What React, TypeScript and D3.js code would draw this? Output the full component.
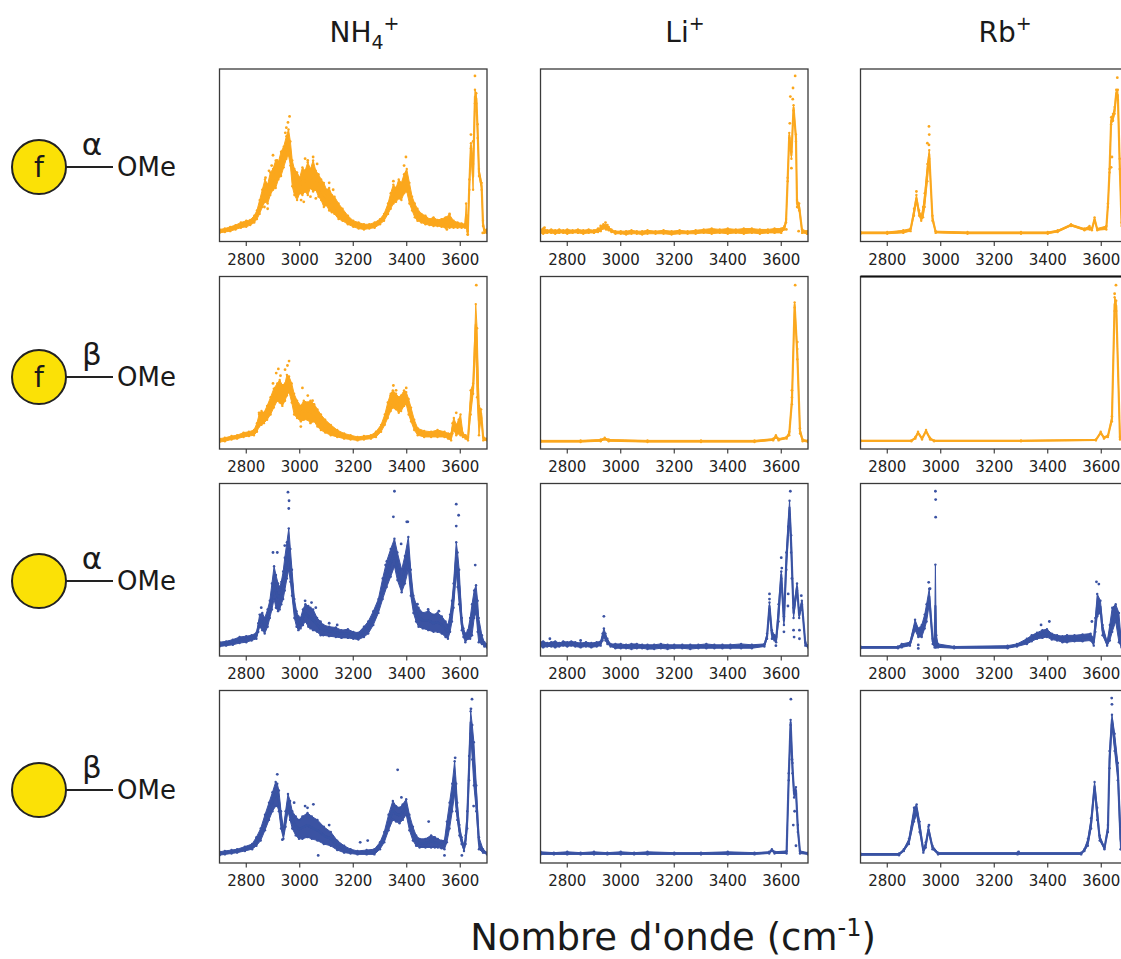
import React from "react";
import * as d3 from "d3";

const anomers = ["α", "β", "α", "β"];
const hasF = [true, true, false, false];
const tickValues = [2800, 3000, 3200, 3400, 3600];
const orange = "#FBA71F";
const blue = "#3A52A3";

// band rows: wavenumber, lower edge, upper edge (percent of panel height)
const nh4FA = [[2700,5,7],[2720,5.5,7.5],[2740,6,8.5],[2760,7,9.5],[2780,8,11],[2800,8.5,12],[2815,9.5,12.5],[2830,11,15],[2840,13,18],[2850,16,24],[2860,20,30],[2870,23,36],[2880,22,33],[2890,27,40],[2900,30,42],[2910,31,47],[2920,36,46],[2930,38,52],[2940,43,55],[2950,48,61],[2958,50,65],[2965,44,58],[2972,32,47],[2980,27,42],[2990,24,40],[3000,28,37],[3010,27,43],[3020,29,41],[3030,27,46],[3040,31,42],[3050,29,47],[3060,30,41],[3070,26,39],[3080,24,36],[3090,20,34],[3100,21,30],[3110,18,31],[3120,17,27],[3130,16,26],[3145,13,22],[3160,12,19],[3180,10,15],[3200,8.5,12],[3220,7.5,11],[3240,7,10],[3260,7.5,10],[3280,8,11],[3300,10,13],[3315,12,16],[3330,16,22],[3340,19,28],[3350,22,33],[3360,23,31],[3370,25,36],[3380,24,34],[3390,28,39],[3400,29,42],[3410,22,34],[3420,18,26],[3430,14,22],[3440,12,19],[3455,11,16],[3470,10,15],[3485,9.5,13],[3500,9,14],[3515,9,12.5],[3530,8.5,13],[3545,8,14],[3560,8,15.5],[3575,8,12],[3590,8,11],[3605,8,10.5],[3618,8,10],[3622,9,22],[3628,4,6],[3634,30,36],[3640,54,57],[3648,30,45],[3655,80,88],[3660,80,86],[3665,60,68],[3670,38,42],[3680,30,34],[3685,9,12],[3690,5,7],[3700,5,7]];
const liFA = [[2700,5,7],[2710,4.5,7.5],[2725,5,6.5],[2740,5,7],[2755,4.5,6.5],[2770,5,7],[2785,5,6.5],[2800,4.5,7],[2820,5,6.5],[2840,5,7],[2860,4.5,6.5],[2880,5,7],[2900,5,6.5],[2915,5.5,7.5],[2925,6,8],[2935,7.5,10],[2945,7,9.5],[2955,6.5,8.5],[2965,5.5,7],[2980,4.5,6],[3000,4.5,6],[3020,4,6],[3040,4.5,6.5],[3060,4.5,6],[3080,4,6],[3100,4.5,6.5],[3130,4.5,6],[3160,4.5,6.5],[3190,4,6],[3220,4.5,6.5],[3250,4.5,6],[3280,4.5,6.5],[3310,5,7],[3340,4.5,7.5],[3370,5,7],[3400,4.5,7.5],[3430,5,7],[3460,4.5,7.5],[3490,5,7.5],[3520,4.5,7],[3550,5,7],[3575,5,7.5],[3600,5,7.5],[3612,7,9],[3618,11,13],[3624,35,37],[3630,60,63],[3638,48,52],[3646,76,79],[3655,58,62],[3659,20,24],[3667,18,22],[3678,5,7],[3696,4.5,6],[3700,4.5,6]];
const rbFA = [[2700,4.5,5.5],[2800,4.5,5.5],[2860,5,6.5],[2887,6,7.5],[2900,15,19],[2909,23,27],[2919,15,18],[2927,12,15],[2934,14,20],[2940,20,28],[2950,35,45],[2957,48,53],[2969,12,15],[2981,5,6],[3100,4.5,5.5],[3300,4.5,5.5],[3400,4.5,5.5],[3437,5.5,6.5],[3487,9,10],[3537,6.5,7.5],[3556,7,9],[3565,6.5,7.5],[3575,12,14],[3585,6.5,7.5],[3619,7,9],[3625,20,22],[3631,40,42],[3637,68,72],[3644,70,74],[3650,74,78],[3656,84,88],[3662,82,88],[3669,42,48],[3676,9,11],[3700,5,6]];
const nh4FB = [[2700,4,6],[2720,4.5,6.5],[2745,5.5,7.5],[2766,6,8],[2790,7,9.5],[2810,7.5,10],[2829,8,11],[2840,10,15],[2848,13,20],[2857,14,22],[2866,15,21],[2878,17,25],[2891,20,30],[2903,24,35],[2916,28,38],[2925,27,40],[2935,25,37],[2945,28,38],[2952,31,43],[2960,33,42],[2970,27,38],[2979,20,32],[2990,18,28],[3004,16,25],[3015,17,28],[3029,17,27],[3040,15,28],[3054,16,26],[3066,13,23],[3079,11,20],[3095,9.5,17],[3116,8,14],[3140,7,11],[3166,6,9],[3190,5.5,8],[3216,5,7],[3240,5.5,7.5],[3266,6,8],[3285,7,10],[3304,10,14],[3318,14,20],[3329,18,27],[3340,22,32],[3348,24,34],[3360,23,32],[3370,21,30],[3379,22,31],[3390,25,34],[3398,26,33],[3407,20,29],[3416,16,24],[3428,11,17],[3441,8,12],[3465,7,10.5],[3491,7,10],[3515,7,11],[3541,7,10],[3555,6,9],[3566,5,9],[3571,9,15],[3576,11,18],[3585,8,14],[3594,9,17],[3601,8,20],[3610,7,9],[3620,6,8],[3629,5,7],[3639,20,34],[3648,32,38],[3658,60,84],[3663,30,70],[3670,8,25],[3678,18,23],[3686,5,7],[3700,5,6]];
const liFB = [[2700,4,5],[2850,4,5],[2925,4.5,5.5],[2940,5.5,6.5],[2955,4.5,5.5],[3100,4,5],[3300,4,5],[3500,4,5],[3570,5,6],[3580,6.5,8],[3590,5,6],[3620,6,7],[3630,8,10],[3640,26,30],[3650,82,85],[3660,52,58],[3670,9,12],[3680,4.5,5.5],[3700,4,5]];
const rbFB = [[2700,4.5,5],[2890,4.5,5],[2905,6,7],[2915,9,10],[2930,5.5,6.5],[2945,10,11],[2960,5.5,6.5],[2975,4.5,5],[3300,4.5,5],[3580,5,5.5],[3598,9,10],[3610,6,7],[3625,7,8],[3640,16,19],[3650,80,88],[3656,80,86],[3670,5.5,7],[3700,4.5,5]];
const nh4A = [[2700,5.5,8],[2725,6,8.5],[2750,6.5,9.5],[2775,7.5,11],[2800,8,11.5],[2820,9,12],[2838,10,13.5],[2845,14,19],[2850,17,24],[2860,15,25],[2869,13,22],[2880,17,27],[2888,22,32],[2896,27,42],[2904,33,52],[2911,28,47],[2919,26,42],[2925,27,40],[2931,30,43],[2938,33,49],[2944,38,57],[2952,45,66],[2959,50,74],[2965,43,62],[2971,35,50],[2980,22,33],[2988,17,26],[2995,15,23],[3003,16,22],[3012,18,27],[3021,20,30],[3032,17,29],[3040,16,28],[3050,15,27],[3065,14,22],[3078,12,20],[3088,12,18],[3110,11.5,17],[3135,11,16.5],[3156,10.5,15],[3180,10.5,15.5],[3200,10,14],[3219,9.5,13.5],[3240,11,17],[3256,13,20],[3275,18,26],[3294,25,33],[3310,33,45],[3325,40,55],[3340,46,62],[3354,52,68],[3365,44,60],[3381,37,50],[3393,42,58],[3406,50,69],[3415,35,50],[3425,25,35],[3435,20,30],[3444,17,28],[3460,16,25],[3481,15,26],[3500,14,24],[3515,14,25],[3531,13,23],[3545,11,20],[3554,10,18],[3562,14,24],[3569,20,32],[3575,28,42],[3585,48,66],[3590,40,60],[3596,30,50],[3606,15,22],[3612,11,16],[3619,8,13],[3629,10,15],[3637,10,22],[3644,12,30],[3652,22,38],[3659,25,41],[3665,14,32],[3669,8,22],[3681,7,12],[3690,5.5,8],[3700,5,7]];
const liA = [[2700,5.5,8],[2710,5,8.5],[2725,5.5,7.5],[2740,5.5,8],[2755,5,8.5],[2770,5.5,7.5],[2785,6,8.5],[2800,5.5,8],[2815,6,8.5],[2830,5.5,8],[2850,5,7.5],[2870,5.5,8],[2890,5,7.5],[2910,5.5,8],[2925,6,8.5],[2932,9,13],[2937,11,16],[2943,9,13],[2950,7,10],[2962,5.5,7],[2980,4.5,7],[3000,4.5,7],[3020,4.5,6.5],[3040,4,7],[3060,4.5,7],[3080,4.5,6.5],[3100,4,6.5],[3125,4,6.5],[3150,4.5,7],[3175,4,6.5],[3200,4.5,6.5],[3230,4.5,6.5],[3260,4,6.5],[3290,4.5,6.5],[3320,4.5,7],[3350,4.5,6.5],[3380,4.5,6.5],[3410,4.5,6.5],[3450,4.5,7],[3490,4.5,6.5],[3537,5.5,7],[3547,10,13],[3556,27,31],[3565,10,15],[3575,9,12],[3581,8,11],[3590,20,30],[3600,45,49],[3610,18,23],[3619,50,60],[3631,82,90],[3637,60,70],[3646,22,28],[3659,38,42],[3667,22,25],[3677,30,32],[3690,6,8],[3700,5,6]];
const rbA = [[2700,4.5,5.5],[2840,4.5,5.5],[2854,5,7],[2885,6,8],[2904,15,21],[2916,11,16],[2929,11,18],[2940,16,24],[2947,20,30],[2957,30,39],[2970,7,10],[2977,5,9],[2980,5,53],[2983,5,12],[2990,5,7],[3050,4.5,5.5],[3250,4.5,6],[3285,5.5,7],[3322,7,10],[3340,8.5,12],[3360,10,13.5],[3380,10.5,15],[3397,11,15.5],[3415,9.5,13],[3435,9,12],[3455,8,11.5],[3472,8,12],[3500,8.5,12],[3530,8.5,12.5],[3560,9,13],[3572,6,10],[3578,14,22],[3585,23,36],[3597,25,32],[3605,12,18],[3622,6,8],[3632,9,18],[3641,14,28],[3654,20,30],[3666,8,25],[3676,5,6],[3700,5,6]];
const nh4B = [[2700,4.5,6.5],[2720,5,7],[2745,5.5,7.5],[2766,6,8],[2795,7,9.5],[2822,8,11],[2838,10,15],[2854,13,20],[2870,19,28],[2885,25,35],[2898,30,41],[2910,33,47],[2916,33,46],[2922,30,42],[2930,20,30],[2939,14,20],[2947,21,30],[2956,30,40],[2964,25,36],[2972,20,30],[2985,16,27],[2997,14,25],[3010,14,27],[3029,15,29],[3045,14,27],[3066,13,25],[3090,11,21],[3116,10,18],[3140,7.5,13],[3166,6,10],[3190,5.5,8],[3216,5,7],[3250,5,7.5],[3279,5,8],[3300,8,12],[3316,12,18],[3332,19,28],[3348,25,36],[3360,24,33],[3373,23,32],[3385,25,34],[3398,28,37],[3410,19,28],[3423,13,21],[3435,10,16],[3448,9,14],[3470,9,14],[3491,9,16],[3505,9,15],[3516,9,14],[3530,8.5,13],[3541,8,13],[3550,12,24],[3560,20,35],[3570,30,46],[3579,40,59],[3585,30,46],[3589,25,35],[3597,16,22],[3605,11,15],[3614,7,10],[3620,11,16],[3626,20,30],[3633,48,62],[3639,75,88],[3645,60,80],[3651,45,70],[3660,30,45],[3670,8,15],[3685,6,8],[3700,5,6]];
const liB = [[2700,5,6.5],[2750,5,6],[2800,5,6.5],[2850,5,6],[2900,5,6.5],[2950,5,6],[3000,5,6.5],[3050,5,6],[3100,5,6.5],[3200,5,6],[3300,5,6],[3400,5,6.5],[3500,5,6],[3555,5.5,6.5],[3565,7,8],[3575,5.5,6.5],[3620,5.5,7],[3628,48,52],[3635,80,83],[3642,52,58],[3648,38,42],[3655,40,44],[3662,18,22],[3670,5.5,7],[3700,5,6]];
const rbB = [[2700,4.5,5.5],[2844,4.5,5.5],[2862,7,8],[2881,11,14],[2900,24,32],[2910,28,34],[2921,18,24],[2935,6,8],[2944,9,12],[2954,18,21],[2969,8,10],[2990,5,6],[3287,5,6],[3525,5,6],[3537,7,8],[3550,10,14],[3562,20,26],[3575,42,47],[3585,25,32],[3594,13,16],[3612,8,9],[3625,18,22],[3631,55,65],[3640,80,86],[3650,65,75],[3662,48,58],[3672,8,20],[3680,6,7],[3700,5,6]];

// isolated dots: wavenumber, percent of panel height
const nh4FAdots = [[2962,72.5],[2950,66],[2956,69],[2946,63],[2900,50],[2885,41],[2872,37],[2915,47],[2895,44],[2868,20],[2880,19],[3020,48],[3050,49],[3030,47],[3065,45],[2990,27],[3040,26],[3060,25],[3005,24],[3015,23],[3110,34],[3125,30],[3397,49],[3390,44],[3350,35],[3365,30],[3655,96],[3640,62],[3648,58],[3628,4],[3684,5],[3560,16],[3550,7]];
const liFAdots = [[3652,96],[3644,89],[3634,84],[3643,82.5],[3632,68.5],[3638,42.5],[3665,6],[3619,7],[2715,8],[2943,11],[2950,9.5],[2925,9]];
const rbFAdots = [[2956,66.7],[2957,62],[2950,57],[2956,56],[2909,29],[3660,95],[3640,49],[3637,43]];
const nh4FBdots = [[3660,95],[2960,51],[2954,48.4],[2920,46.4],[3010,35.4],[2848,21],[3350,36.8],[3398,35.4],[3585,21],[3004,13],[2928,42.5],[2912,44],[2900,38],[2945,46],[3030,31],[3048,28],[3340,31],[3360,34]];
const liFBdots = [[3652,95],[3640,34],[3660,62]];
const rbFBdots = [[3655,95],[3650,90]];
const nh4Adots = [[2956,95],[2960,90],[2959,85.5],[3354,95.5],[3350,80.7],[3404,77.8],[3400,77.8],[3585,88],[3594,81.6],[3585,75.3],[3656,52.7],[2900,60],[2916,60],[2856,28],[3044,31],[3321,52.7],[2944,64],[3379,65],[3020,32],[3060,28],[3110,19],[3140,18],[3440,30],[3480,27],[3520,26]];
const liAdots = [[3634,95.5],[3600,57],[3602,51],[3631,79],[3627,75],[3556,33],[3556,36],[3626,36],[3625,29],[3640,45],[3646,15],[3648,11],[3668,15],[3668,10],[3675,35],[3610,14],[2937,23],[2735,10],[2850,9],[3580,6]];
const rbAdots = [[2980,95.5],[2981,90.7],[2981,80.5],[2955,42.7],[2960,39],[3582,43],[3591,41.7],[2916,4.4],[2916,6.4],[3406,20],[3375,18],[3565,20]];
const nh4Bdots = [[3644,95],[3640,89.4],[2916,51.4],[3366,54],[3581,61],[3482,24],[3069,4.4],[2935,13.5],[3226,12],[3254,13],[3541,4.4],[3606,4.4],[3020,33],[3051,34],[3029,32],[2979,35],[3650,33],[3380,38],[3110,22]];
const liBdots = [[3636,95],[3650,30],[3645,22],[3655,10],[3640,60]];
const rbBdots = [[3639,95.6],[3640,92],[2956,22],[3291,6.5]];

const rows = [
  [nh4FA, liFA, rbFA],
  [nh4FB, liFB, rbFB],
  [nh4A, liA, rbA],
  [nh4B, liB, rbB],
];
const rowDots = [
  [nh4FAdots, liFAdots, rbFAdots],
  [nh4FBdots, liFBdots, rbFBdots],
  [nh4Adots, liAdots, rbAdots],
  [nh4Bdots, liBdots, rbBdots],
];

const W = 267.5;
const H = 172.5;
const colX = [219.5, 540.5, 860.5];
const rowY = [69, 276.5, 483.5, 690.5];
const rowCy = [167, 377, 581, 790];
const font = "'DejaVu Sans', sans-serif";

const x = d3.scaleLinear().domain([2700, 3700]).range([0, W]);
const y = d3.scaleLinear().domain([0, 100]).range([H, 0]);
const area = d3.area<number[]>().x((d) => x(d[0])).y0((d) => y(d[1])).y1((d) => y(d[2]));
const midLine = d3.line<number[]>().x((d) => x(d[0])).y((d) => y((d[1] + d[2]) / 2));

function Panel({ band, dots, color, px, py, id, heavyTop }: any) {
  return (
    <g transform={`translate(${px},${py})`}>
      <clipPath id={id}><rect width={W} height={H} /></clipPath>
      <g clipPath={`url(#${id})`} filter="url(#soft)">
        <path d={area(band) as string} fill={color} stroke={color} strokeWidth={1} strokeLinejoin="round" />
        <path d={midLine(band) as string} fill="none" stroke={color} strokeWidth={2.2} strokeLinejoin="round" opacity={0.9} />
        {band.flatMap((d: number[], i: number) => [
          <circle key={`l${i}`} cx={x(d[0])} cy={y(d[1])} r={1.2} fill={color} />,
          <circle key={`h${i}`} cx={x(d[0])} cy={y(d[2])} r={1.2} fill={color} />,
        ])}
        {dots.map((d: number[], i: number) => (
          <circle key={i} cx={x(d[0])} cy={y(d[1])} r={1.4} fill={color} />
        ))}
      </g>
      <rect width={W} height={H} fill="none" stroke="#3a3a3a" strokeWidth={1.3} />
      {heavyTop && <line x1={0} x2={W} y1={0} y2={0} stroke="#111" strokeWidth={2} />}
      {tickValues.map((t) => (
        <g key={t} transform={`translate(${x(t)},${H})`}>
          <line y2={4.5} stroke="#333" strokeWidth={1.1} />
          <text y={23} textAnchor="middle" fontSize={15} fontFamily={font} fill="#222">{t}</text>
        </g>
      ))}
    </g>
  );
}

function Glycan({ cy, anomer, f }: { cy: number; anomer: string; f: boolean }) {
  return (
    <g fontFamily={font} fill="#1a1a1a">
      <line x1={66} x2={113} y1={cy} y2={cy} stroke="#222" strokeWidth={1.8} />
      <circle cx={39} cy={cy} r={27} fill="#FBE106" stroke="#222" strokeWidth={2} />
      {f && <text x={39} y={cy + 10} textAnchor="middle" fontSize={28}>f</text>}
      <text x={92} y={cy - 12} textAnchor="middle" fontSize={31}>{anomer}</text>
      <text x={117} y={cy + 9} fontSize={26}>OMe</text>
    </g>
  );
}

export default function App() {
  return (
    <svg width={1121} height={959} style={{ position: "absolute", left: 0, top: 0, background: "#fff" }}>
      <defs>
        <filter id="soft" x="-5%" y="-5%" width="110%" height="110%">
          <feGaussianBlur stdDeviation={0.3} />
        </filter>
      </defs>
      <g fontFamily={font} fill="#1a1a1a" fontSize={28}>
        <text x={364.5} y={42} textAnchor="middle">NH<tspan fontSize={19} dy={7}>4</tspan><tspan fontSize={19} dy={-19}>+</tspan></text>
        <text x={685} y={42} textAnchor="middle">Li<tspan fontSize={19} dy={-12}>+</tspan></text>
        <text x={1005} y={42} textAnchor="middle">Rb<tspan fontSize={19} dy={-12}>+</tspan></text>
      </g>
      {rows.map((row, r) =>
        row.map((band, c) => (
          <Panel
            key={`${r}-${c}`}
            id={`clip-${r}-${c}`}
            band={band}
            dots={rowDots[r][c]}
            color={r < 2 ? orange : blue}
            px={colX[c]}
            py={rowY[r]}
            heavyTop={r === 1 && c === 2}
          />
        ))
      )}
      {anomers.map((a, r) => (
        <Glycan key={r} cy={rowCy[r]} anomer={a} f={hasF[r]} />
      ))}
      <text x={673} y={950} textAnchor="middle" fontFamily={font} fontSize={37} fill="#1a1a1a">
        Nombre d'onde (cm<tspan fontSize={24} dy={-14}>-1</tspan><tspan dy={14}>)</tspan>
      </text>
    </svg>
  );
}
